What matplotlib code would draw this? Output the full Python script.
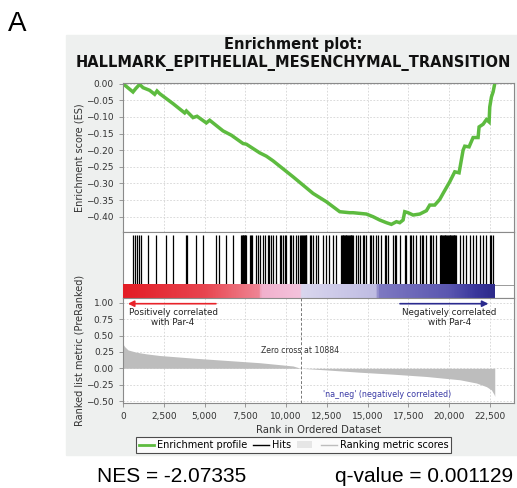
import matplotlib
matplotlib.use("Agg")
import matplotlib.pyplot as plt
from matplotlib.colors import LinearSegmentedColormap
from matplotlib.lines import Line2D
from matplotlib.patches import Patch, Rectangle
from matplotlib.ticker import FuncFormatter
import numpy as np

# Running enrichment score (rank, ES)
es_ranks = [0, 613, 777, 1022, 1226, 1635, 1942, 2085, 2248, 3066, 3781, 3884,
            4292, 4538, 5110, 5314, 6132, 6643, 7358, 7563, 8380, 8789, 9198,
            10424, 11651, 12468, 13286, 13899, 14104, 14921, 15330, 15739,
            16148, 16454, 16761, 16965, 17170, 17272, 17476, 17783, 18192,
            18600, 18805, 19111, 19418, 19622, 20031, 20338, 20603, 20849,
            20951, 21216, 21462, 21768, 21830, 22075, 22279, 22443, 22484,
            22586, 22688, 22790]
es_vals = [0.0, -0.025, -0.015, -0.002, -0.012, -0.020, -0.032, -0.022, -0.030,
           -0.060, -0.088, -0.082, -0.102, -0.098, -0.118, -0.110, -0.142,
           -0.155, -0.180, -0.182, -0.208, -0.218, -0.232, -0.280, -0.330,
           -0.355, -0.385, -0.388, -0.388, -0.392, -0.400, -0.410, -0.418,
           -0.423, -0.415, -0.418, -0.410, -0.385, -0.388, -0.395, -0.392,
           -0.382, -0.365, -0.365, -0.348, -0.330, -0.295, -0.265, -0.268,
           -0.200, -0.188, -0.190, -0.162, -0.162, -0.130, -0.122, -0.108,
           -0.115, -0.070, -0.040, -0.025, 0.0]

# Positions of gene set members in the ranked list
hit_ranks = [613, 715, 858, 981, 1083, 1533, 2044, 2657, 3066, 3843, 3924,
             4497, 4906, 5723, 5887, 6336, 6745, 7256, 7300, 7340, 7380,
             7420, 7460, 7500, 7563, 7767, 7850, 7931, 8176, 8280, 8380, 8585,
             8687, 8891, 8960, 9050, 9198, 9400, 9607, 9700, 9811, 9910,
             10016, 10220, 10320, 10424, 10629, 10700, 10833, 10935, 11000,
             11038, 11100, 11140, 11200, 11242, 11446, 11550, 11651, 11855,
             11950, 12264, 12468, 12600, 12877, 13082, 13388, 13430, 13470,
             13510, 13550, 13593, 13650, 13695, 13740, 13797, 13850, 13899,
             13950, 14001, 14050, 14104, 14308, 14400, 14512, 14717, 14800,
             14921, 15126, 15200, 15330, 15534, 15620, 15841, 16045, 16150,
             16250, 16556, 16650, 16761, 16965, 17272, 17374, 17578, 17680,
             17783, 17987, 18192, 18300, 18396, 18600, 18805, 18900, 19009,
             19200, 19418, 19470, 19520, 19570, 19620, 19670, 19720, 19770,
             19820, 19870, 19920, 19970, 20020, 20070, 20120, 20170, 20220,
             20270, 20320, 20370, 20420, 20644, 20849, 21053, 21257, 21462,
             21666, 21871, 22075, 22279, 22484, 22586, 22688]

# Ranked list metric (rank, value)
metric_ranks = [0, 102, 307, 818, 1431, 2248, 4292, 6336, 8380, 10424, 10884,
                12468, 14512, 16556, 18600, 20644, 21666, 22279, 22586, 22750,
                22790]
metric_vals = [0.37, 0.33, 0.28, 0.245, 0.22, 0.195, 0.155, 0.12, 0.085,
               0.035, 0.0, -0.025, -0.06, -0.09, -0.125, -0.175, -0.225,
               -0.28, -0.33, -0.40, -0.43]

n_genes = 22790
zero_cross = 10884
x_ticks = [0, 2500, 5000, 7500, 10000, 12500, 15000, 17500, 20000, 22500]
es_ticks = [0.0, -0.05, -0.10, -0.15, -0.20, -0.25, -0.30, -0.35, -0.40]
metric_ticks = [1.0, 0.75, 0.5, 0.25, 0.0, -0.25, -0.5]

W, H = 517, 488
fig = plt.figure(figsize=(W / 100, H / 100), dpi=100)
plt.rcParams["font.family"] = "DejaVu Sans"

# grey background panel
bg = Rectangle((66 / W, 1 - 455 / H), 1 - 66 / W, (455 - 35) / H,
               transform=fig.transFigure, color="#eef0ef", zorder=-10)
fig.patches.append(bg)

left = 123 / W
width = (514 - 123) / W
ax1 = fig.add_axes([left, 1 - 232 / H, width, (232 - 83) / H])
ax2 = fig.add_axes([left, 1 - 298 / H, width, (298 - 232) / H])
ax3 = fig.add_axes([left, 1 - 402.7 / H, width, (402.7 - 298) / H])

XMAX = 23970
spine_c = "#8a8a8a"
grid_kw = dict(color="#d4d4d4", lw=0.6, linestyle=(0, (2, 2)))
tick_c = "#333333"

for ax in (ax1, ax2, ax3):
    ax.set_xlim(0, XMAX)
    ax.set_facecolor("white")
    for s in ax.spines.values():
        s.set_color(spine_c)
        s.set_linewidth(0.8)

# Enrichment score
ax1.plot(es_ranks, es_vals, color="#5dbb3f", lw=2.5, solid_joinstyle="miter")
ax1.set_ylim(-0.446, 0.002)
ax1.set_yticks(es_ticks)
ax1.set_yticklabels([f"{v:.2f}".replace("-", "\u2212") for v in es_ticks])
ax1.set_xticks(x_ticks)
ax1.tick_params(axis="x", bottom=False, labelbottom=False)
ax1.tick_params(axis="y", labelsize=6.5, colors=spine_c, labelcolor=tick_c,
                length=3, width=0.6)
ax1.grid(True, **grid_kw)
ax1.set_axisbelow(True)

# Hits + colour bar
ax2.vlines(hit_ranks, 0.2, 0.955, color="black", lw=0.9)
ax2.axhline(0.2, color=spine_c, lw=0.6)
cmap = LinearSegmentedColormap.from_list("gsea", [
    (0.0, "#e31d25"), (0.22, "#e84550"), (0.30, "#ec6a76"), (0.365, "#ef8494"),
    (0.37, "#f1b0cc"), (0.475, "#f4c2dc"), (0.48, "#d9d6ee"), (0.68, "#bfbce2"),
    (0.69, "#7e79c2"), (0.88, "#5a56b0"), (0.95, "#3a379c"), (1.0, "#2d2a8a")])
ax2.imshow(np.linspace(0, 1, 400)[None, :], cmap=cmap, aspect="auto",
           extent=[0, n_genes, 0, 0.2], zorder=3)
ax2.set_xlim(0, XMAX)
ax2.set_ylim(0, 1)
ax2.set_xticks([])
ax2.set_yticks([])

# Ranked list metric
ax3.fill_between(metric_ranks, metric_vals, 0, color="#bdbdbd", lw=0)
ax3.set_ylim(-0.525, 1.072)
ax3.set_yticks(metric_ticks)
ax3.set_yticklabels([f"{v:.2f}".replace("-", "\u2212") for v in metric_ticks])
ax3.set_xticks(x_ticks)
ax3.xaxis.set_major_formatter(FuncFormatter(lambda v, p: f"{int(v):,}"))
ax3.tick_params(labelsize=6.5, colors=spine_c, labelcolor=tick_c,
                length=3, width=0.6)
ax3.grid(True, **grid_kw)
ax3.set_axisbelow(True)
ax3.axvline(zero_cross, color="#777777", lw=0.7, linestyle=(0, (3, 2)))
ax3.text(zero_cross, 0.27, f"Zero cross at {zero_cross}", ha="center",
         va="center", fontsize=5.6, color="#333333")
ax3.text(16210, -0.40, "'na_neg' (negatively correlated)", ha="center",
         va="center", fontsize=5.8, color="#3a3aa6")
ax3.annotate("", xy=(300, 0.985), xytext=(5700, 0.985),
             arrowprops=dict(arrowstyle="-|>", color="#e8232a", lw=1.2,
                             mutation_scale=9, shrinkA=0, shrinkB=0))
ax3.annotate("", xy=(22400, 0.985), xytext=(16980, 0.985),
             arrowprops=dict(arrowstyle="-|>", color="#2b2b8f", lw=1.2,
                             mutation_scale=9, shrinkA=0, shrinkB=0))
ax3.text(3070, 0.77, "Positively correlated\nwith Par-4", ha="center",
         va="center", fontsize=6.3, color="#222222", linespacing=1.1)
ax3.text(20010, 0.77, "Negatively correlated\nwith Par-4", ha="center",
         va="center", fontsize=6.3, color="#222222", linespacing=1.1)
ax3.set_xlabel("Rank in Ordered Dataset", fontsize=7.3, color="#333333",
               labelpad=3)

# Axis titles
fig.text(79 / W, 1 - 157.5 / H, "Enrichment score (ES)", rotation=90,
         ha="center", va="center", fontsize=7, color="#333333")
fig.text(79 / W, 1 - 350 / H, "Ranked list metric (PreRanked)", rotation=90,
         ha="center", va="center", fontsize=7, color="#333333")

# Title
fig.text(293 / W, 1 - 45 / H, "Enrichment plot:", ha="center", va="center",
         fontsize=10.5, fontweight="bold", color="#111111")
fig.text(293 / W, 1 - 63 / H, "HALLMARK_EPITHELIAL_MESENCHYMAL_TRANSITION",
         ha="center", va="center", fontsize=10.5, fontweight="bold",
         color="#111111")

# Legend
handles = [Line2D([], [], color="#5dbb3f", lw=2),
           Line2D([], [], color="black", lw=1),
           Patch(facecolor="#e6e6e6", edgecolor="none"),
           Line2D([], [], color="#bdbdbd", lw=1)]
labels = ["Enrichment profile", "Hits", "", "Ranking metric scores"]
leg = fig.legend(handles, labels, loc="center",
                 bbox_to_anchor=(293.5 / W, 1 - 445 / H), ncol=4,
                 fontsize=7, frameon=True, fancybox=False,
                 handlelength=1.6, handletextpad=0.3, columnspacing=0.6,
                 borderpad=0.3, borderaxespad=0)
leg.get_frame().set_edgecolor("#222222")
leg.get_frame().set_linewidth(0.8)

# Panel letter and statistics
fig.text(8 / W, 1 - 31 / H, "A", fontsize=20, family="Liberation Sans",
         va="baseline", ha="left")
fig.text(97 / W, 1 - 481.7 / H, "NES = -2.07335", fontsize=15,
         family="Liberation Sans", va="baseline", ha="left")
fig.text(513 / W, 1 - 481.7 / H, "q-value = 0.001129", fontsize=15,
         family="Liberation Sans", va="baseline", ha="right")

fig.savefig("out.png", dpi=100)
